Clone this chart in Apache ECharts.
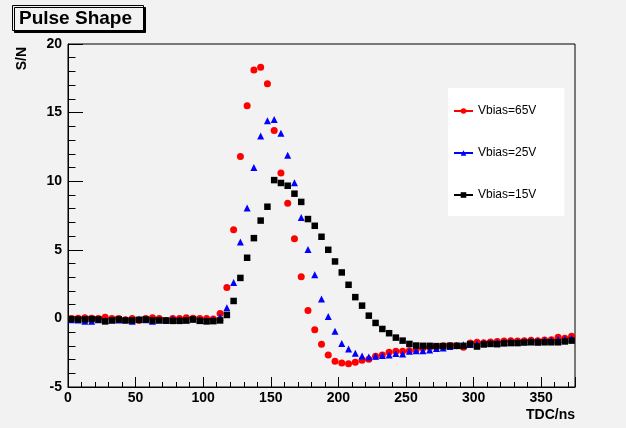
<!DOCTYPE html>
<html><head><meta charset="utf-8">
<script src="https://cdn.jsdelivr.net/npm/echarts@6/dist/echarts.min.js"></script>
<style>html,body{margin:0;padding:0;background:#f2f2f2}#c{width:626px;height:428px}</style>
</head><body><div id="c"></div><script>
const tdc = [2.5,7.5,12.5,17.5,22.5,27.5,32.5,37.5,42.5,47.5,52.5,57.5,62.5,67.5,72.5,77.5,82.5,87.5,92.5,97.5,
  102.5,107.5,112.5,117.5,122.5,127.5,132.5,137.5,142.5,147.5,152.5,157.5,162.5,167.5,172.5,177.5,182.5,187.5,192.5,197.5,
  202.5,207.5,212.5,217.5,222.5,227.5,232.5,237.5,242.5,247.5,252.5,257.5,262.5,267.5,272.5,277.5,282.5,287.5,292.5,297.5,
  302.5,307.5,312.5,317.5,322.5,327.5,332.5,337.5,342.5,347.5,352.5,357.5,362.5,367.5,372.5];
const vbias65 = [0.0,0.02,0.05,0.02,0.0,0.08,0.0,0.0,-0.1,0.0,-0.15,0.0,0.05,0.0,-0.15,0.0,0.0,0.05,0.02,0.0,0.0,-0.05,
  0.35,2.25,6.47,11.8,15.5,18.1,18.3,17.1,13.7,10.6,8.4,5.8,3.03,0.57,-0.82,-1.88,-2.66,-3.13,-3.25,-3.3,-3.2,-3.05,-2.98,
  -2.76,-2.66,-2.47,-2.4,-2.4,-2.35,-2.28,-2.15,-2.1,-2.05,-2.0,-1.98,-2.0,-2.1,-1.8,-1.74,-1.78,-1.72,-1.68,-1.65,-1.62,
  -1.65,-1.62,-1.6,-1.62,-1.58,-1.55,-1.37,-1.45,-1.3];
const vbias25 = [-0.1,-0.12,-0.2,-0.2,-0.1,-0.15,-0.1,-0.12,-0.1,-0.2,-0.05,-0.1,-0.2,-0.1,-0.15,-0.05,-0.1,-0.12,-0.05,-0.1,-0.15,-0.1,
  0.1,0.77,2.62,5.57,8.05,11.0,13.3,14.4,14.5,13.5,11.9,9.89,7.35,5.02,3.18,1.42,0.13,-0.93,-1.83,-2.23,-2.54,-2.74,-2.82,
  -2.76,-2.7,-2.66,-2.55,-2.6,-2.4,-2.35,-2.36,-2.3,-2.2,-2.16,-2.05,-1.98,-1.92,-1.9,-1.84,-1.8,-1.78,-1.75,-1.72,-1.7,
  -1.72,-1.68,-1.65,-1.62,-1.6,-1.6,-1.52,-1.5,-1.45];
const vbias15 = [-0.05,-0.08,-0.08,-0.05,-0.08,-0.22,-0.15,-0.08,-0.15,-0.15,-0.1,-0.08,-0.15,-0.15,-0.15,-0.18,-0.18,-0.15,-0.08,-0.18,-0.22,-0.2,
  -0.15,0.25,1.27,2.95,4.42,5.85,7.13,8.14,10.08,9.87,9.67,9.09,8.49,7.24,6.75,5.95,5.0,4.15,3.35,2.45,1.55,0.93,0.2,
  -0.33,-0.77,-1.08,-1.4,-1.62,-1.86,-1.98,-2.0,-2.0,-2.02,-2.02,-2.0,-2.0,-2.0,-1.88,-2.05,-1.9,-1.86,-1.88,-1.82,-1.8,
  -1.8,-1.76,-1.74,-1.76,-1.74,-1.74,-1.74,-1.68,-1.62];
const seriesNames = ['Vbias=65V','Vbias=25V','Vbias=15V'];
const titleText = 'Pulse Shape';
const xName = 'TDC/ns';
const yName = 'S/N';

const F = '"Liberation Sans", Arial, Helvetica, sans-serif';
const chart = echarts.init(document.getElementById('c'), null, {renderer:'canvas'});
function mk(name, vals, symbol, size, color, z) {
  return {name, type:'line', data: tdc.map((x,i)=>[x, vals[i]]), symbol, symbolSize:size,
    showSymbol:true, showAllSymbol:true, itemStyle:{color}, lineStyle:{opacity:0}, z, emphasis:{disabled:true}};
}
chart.setOption({
  backgroundColor:'#f2f2f2',
  animation:false,
  title:{text:titleText, left:12, top:5, padding:[4,12,3,7], backgroundColor:'#f2f2f2',
    borderColor:'#000', borderWidth:1, shadowColor:'#000', shadowOffsetX:2, shadowOffsetY:2, shadowBlur:0,
    textStyle:{fontFamily:F, fontWeight:'bold', fontSize:19, color:'#000'}},
  legend:{orient:'vertical', left:448, top:88, padding:[17,28,15,5], itemWidth:19, itemHeight:7, itemGap:30,
    backgroundColor:'#fff', selectedMode:false, data:seriesNames,
    lineStyle:{opacity:1, width:2}, textStyle:{fontFamily:F, fontSize:12, color:'#000'}},
  grid:{left:68, top:44, width:507, height:343, show:true, borderColor:'#000', borderWidth:1, backgroundColor:'transparent'},
  xAxis:{type:'value', min:0, max:375, interval:50,
    axisLine:{onZero:false, lineStyle:{color:'#000', width:1}},
    axisTick:{inside:true, length:10, lineStyle:{color:'#000'}},
    minorTick:{show:true, splitNumber:5, length:5, lineStyle:{color:'#000'}},
    splitLine:{show:false}, minorSplitLine:{show:false},
    axisLabel:{fontFamily:F, fontWeight:'bold', fontSize:14, color:'#000', margin:4, showMaxLabel:false},
    name:xName, nameLocation:'end', nameGap:0,
    nameTextStyle:{fontFamily:F, fontWeight:'bold', fontSize:14, color:'#000', align:'right', verticalAlign:'top', padding:[21,0,0,0]}},
  yAxis:{type:'value', min:-5, max:20, interval:5,
    axisLine:{show:true, onZero:false, lineStyle:{color:'#000', width:1}},
    axisTick:{inside:true, length:15, lineStyle:{color:'#000'}},
    minorTick:{show:true, splitNumber:5, length:7.5, lineStyle:{color:'#000'}},
    splitLine:{show:false}, minorSplitLine:{show:false},
    axisLabel:{fontFamily:F, fontWeight:'bold', fontSize:14, color:'#000', margin:6}},
  graphic:[{type:'text', x:22, y:47, rotation:Math.PI/2,
    style:{text:yName, font:'bold 14px '+F, fill:'#000', textAlign:'right', textVerticalAlign:'middle'}}],
  series:[
    mk(seriesNames[0], vbias65, 'circle', 7, '#ff0000', 2),
    mk(seriesNames[1], vbias25, 'triangle', 7, '#0000ff', 3),
    mk(seriesNames[2], vbias15, 'rect', 6.5, '#000000', 4)
  ]
});
</script></body></html>
